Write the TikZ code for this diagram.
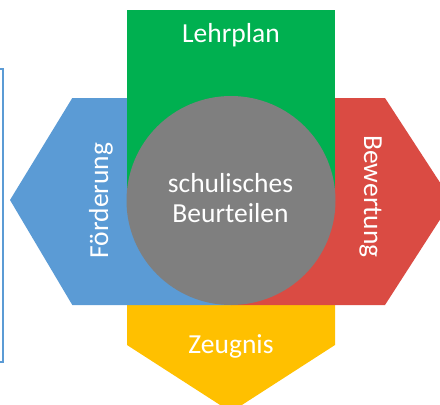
\documentclass[tikz,border=0pt]{standalone}
\usepackage{fontspec}
\setmainfont{Carlito}
\definecolor{cgreen}{HTML}{00B050}
\definecolor{cblue}{HTML}{5B9BD5}
\definecolor{cred}{HTML}{DA4B43}
\definecolor{cyellow}{HTML}{FFC000}
\definecolor{cgray}{HTML}{7F7F7F}
\begin{document}
\begin{tikzpicture}[x=1pt,y=-1pt,
  lbl/.style={text=white,font=\fontsize{27.5}{32}\selectfont,inner sep=0pt,anchor=base}]
\useasboundingbox (0,0) rectangle (440,405);
\begin{scope}
\clip (0,0) rectangle (440,405);
\fill[cyellow] (127,300) -- (335,300) -- (335,345) -- (231,412) -- (127,345) -- cycle;
\fill[cblue] (231,98) -- (72.3,98) -- (10,200) -- (72.3,305) -- (231,305) -- cycle;
\fill[cred] (231,98) -- (385,98) -- (452,201) -- (385,305) -- (231,305) -- cycle;
\fill[cgreen] (127,10) rectangle (335,200.5);
\node[circle,fill=cgray,draw=none,minimum size=209pt,inner sep=0pt] (circ) at (231,200.5) {};
\draw[cblue,line width=2.2pt] (-20,69.3) rectangle (3,361.7);
\end{scope}
\node[lbl] (lehrplan) at (231,42) {Lehrplan};
\node[lbl] (schul) at (230.5,192) {schulisches};
\node[lbl] (beurt) at (230.5,222.5) {Beurteilen};
\node[lbl,rotate=90] (foerd) at (108,200.5) {Förderung};
\node[lbl,rotate=-90] (bew) at (364,196.5) {Bewertung};
\node[lbl] (zeug) at (231,353) {Zeugnis};
\end{tikzpicture}
\end{document}
